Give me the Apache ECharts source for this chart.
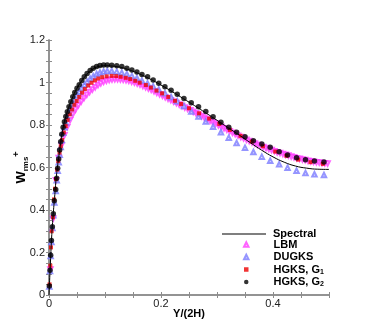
<!DOCTYPE html>
<html>
<head>
<meta charset="utf-8">
<script src="https://cdn.jsdelivr.net/npm/echarts@6/dist/echarts.min.js"></script>
<style>
  html, body { margin: 0; padding: 0; background: #fff; }
  #chart { width: 374px; height: 332px; }
</style>
</head>
<body>
<div id="chart"></div>
<script>
// Spectral (line)
var specY = [0, 0.0025, 0.005, 0.0075, 0.01, 0.0125, 0.015, 0.0175, 0.02, 0.025, 0.03, 0.035, 0.04, 0.045, 0.05, 0.055, 0.06, 0.065, 0.07, 0.075, 0.08, 0.085, 0.09, 0.095, 0.1, 0.11, 0.12, 0.13, 0.14, 0.15, 0.16, 0.17, 0.18, 0.19, 0.2, 0.22, 0.24, 0.26, 0.28, 0.3, 0.32, 0.34, 0.36, 0.38, 0.4, 0.42, 0.44, 0.46, 0.48, 0.5];
var specW = [0, 0.15, 0.285, 0.38, 0.46, 0.54, 0.6, 0.65, 0.7, 0.785, 0.84, 0.882, 0.915, 0.948, 0.973, 0.995, 1.013, 1.03, 1.045, 1.057, 1.066, 1.072, 1.076, 1.078, 1.079, 1.078, 1.075, 1.07, 1.062, 1.053, 1.042, 1.03, 1.017, 1.003, 0.988, 0.957, 0.924, 0.891, 0.857, 0.822, 0.787, 0.752, 0.716, 0.681, 0.65, 0.625, 0.607, 0.597, 0.592, 0.591];

// LBM (down triangles)
var lbmY = [0.0025, 0.0075, 0.0125, 0.0175, 0.0225, 0.0275, 0.0325, 0.0375, 0.0425, 0.0475, 0.0525, 0.0575, 0.0625, 0.0675, 0.0725, 0.0775, 0.0825, 0.0875, 0.0925, 0.0975,
  0.1025, 0.1075, 0.1125, 0.1175, 0.1225, 0.1275, 0.1325, 0.1375, 0.1425, 0.1475, 0.1525, 0.1575, 0.1625, 0.1675, 0.1725, 0.1775, 0.1825, 0.1875, 0.1925, 0.1975,
  0.2025, 0.2075, 0.2125, 0.2175, 0.2225, 0.2275, 0.2325, 0.2375, 0.2425, 0.2475, 0.2525, 0.2575, 0.2625, 0.2675, 0.2725, 0.2775, 0.2825, 0.2875, 0.2925, 0.2975,
  0.3025, 0.3075, 0.3125, 0.3175, 0.3225, 0.3275, 0.3325, 0.3375, 0.3425, 0.3475, 0.3525, 0.3575, 0.3625, 0.3675, 0.3725, 0.3775, 0.3825, 0.3875, 0.3925, 0.3975,
  0.4025, 0.4075, 0.4125, 0.4175, 0.4225, 0.4275, 0.4325, 0.4375, 0.4425, 0.4475, 0.4525, 0.4575, 0.4625, 0.4675, 0.4725, 0.4775, 0.4825, 0.4875, 0.4925, 0.4975];
var lbmW = [0.12, 0.36, 0.54, 0.645, 0.705, 0.752, 0.79, 0.822, 0.85, 0.873, 0.893, 0.911, 0.927, 0.942, 0.955, 0.967, 0.978, 0.988, 0.996, 1.003,
  1.008, 1.012, 1.014, 1.015, 1.015, 1.014, 1.013, 1.011, 1.008, 1.004, 1.0, 0.995, 0.99, 0.984, 0.978, 0.972, 0.966, 0.959, 0.952, 0.945,
  0.938, 0.931, 0.924, 0.917, 0.91, 0.903, 0.896, 0.889, 0.882, 0.876, 0.869, 0.862, 0.855, 0.848, 0.841, 0.834, 0.827, 0.82, 0.813, 0.806,
  0.799, 0.792, 0.785, 0.778, 0.771, 0.764, 0.757, 0.75, 0.743, 0.737, 0.731, 0.725, 0.719, 0.713, 0.707, 0.702, 0.697, 0.692, 0.687, 0.682,
  0.677, 0.672, 0.668, 0.664, 0.66, 0.656, 0.652, 0.648, 0.644, 0.641, 0.638, 0.635, 0.632, 0.629, 0.627, 0.625, 0.623, 0.621, 0.62, 0.619];

// DUGKS (up triangles)
var dugksY = [0.0006, 0.0018, 0.003, 0.0043, 0.006, 0.0077, 0.0095, 0.012, 0.0137, 0.0155, 0.0173, 0.019, 0.0209, 0.0228, 0.0252, 0.0275, 0.03, 0.0327, 0.0357, 0.039,
  0.0425, 0.046, 0.05, 0.054, 0.0585, 0.063, 0.068, 0.0735, 0.079, 0.085, 0.091, 0.0975, 0.104, 0.112, 0.121, 0.13, 0.139, 0.148, 0.157, 0.166,
  0.176, 0.186, 0.196, 0.207, 0.218, 0.229, 0.241, 0.254, 0.267, 0.28, 0.293, 0.307, 0.321, 0.335, 0.35, 0.365, 0.38, 0.395, 0.411, 0.426,
  0.442, 0.458, 0.474, 0.491];
var dugksW = [0.04, 0.113, 0.183, 0.25, 0.315, 0.375, 0.435, 0.49, 0.54, 0.585, 0.625, 0.66, 0.697, 0.73, 0.763, 0.79, 0.812, 0.835, 0.858, 0.88,
  0.902, 0.921, 0.94, 0.957, 0.974, 0.99, 1.004, 1.018, 1.03, 1.04, 1.047, 1.052, 1.054, 1.054, 1.051, 1.046, 1.04, 1.031, 1.021, 1.009,
  0.996, 0.982, 0.967, 0.95, 0.932, 0.912, 0.889, 0.863, 0.84, 0.816, 0.792, 0.766, 0.74, 0.715, 0.693, 0.673, 0.651, 0.632, 0.615, 0.599,
  0.585, 0.574, 0.568, 0.565];

// HGKS, G1 (red squares)
var g1Y = [0.001, 0.0024, 0.0036, 0.0048, 0.007, 0.009, 0.0107, 0.0125, 0.0145, 0.0165, 0.0188, 0.021, 0.0235, 0.0265, 0.0298, 0.0333, 0.037, 0.041, 0.0452, 0.0494,
  0.054, 0.059, 0.064, 0.07, 0.076, 0.082, 0.088, 0.095, 0.103, 0.112, 0.12, 0.128, 0.137, 0.145, 0.154, 0.162, 0.173, 0.182, 0.192, 0.202,
  0.213, 0.225, 0.236, 0.25, 0.268, 0.286, 0.304, 0.323, 0.342, 0.362, 0.382, 0.404, 0.424, 0.445, 0.467, 0.489];
var g1W = [0.05, 0.138, 0.224, 0.3, 0.366, 0.45, 0.5, 0.545, 0.59, 0.63, 0.67, 0.7, 0.73, 0.765, 0.795, 0.824, 0.85, 0.873, 0.895, 0.913,
  0.932, 0.952, 0.969, 0.986, 0.999, 1.01, 1.019, 1.025, 1.029, 1.031, 1.03, 1.027, 1.022, 1.016, 1.008, 0.999, 0.988, 0.976, 0.962, 0.949,
  0.932, 0.914, 0.899, 0.879, 0.855, 0.83, 0.805, 0.777, 0.749, 0.722, 0.7, 0.675, 0.655, 0.637, 0.625, 0.617];

// HGKS, G2 (black dots)
var g2Y = [0.0006, 0.0018, 0.003, 0.0043, 0.006, 0.0077, 0.0095, 0.012, 0.0137, 0.0155, 0.0173, 0.019, 0.0209, 0.0228, 0.0252, 0.0275, 0.03, 0.0327, 0.0357, 0.039,
  0.0425, 0.046, 0.05, 0.054, 0.0585, 0.063, 0.068, 0.0735, 0.079, 0.085, 0.091, 0.0975, 0.104, 0.112, 0.121, 0.13, 0.139, 0.148, 0.157, 0.166,
  0.176, 0.186, 0.196, 0.207, 0.218, 0.229, 0.241, 0.254, 0.267, 0.28, 0.293, 0.307, 0.321, 0.335, 0.35, 0.365, 0.38, 0.395, 0.411, 0.426,
  0.442, 0.458, 0.474, 0.491];
var g2W = [0.042, 0.116, 0.187, 0.256, 0.321, 0.382, 0.444, 0.497, 0.549, 0.596, 0.64, 0.682, 0.721, 0.757, 0.79, 0.815, 0.84, 0.862, 0.886, 0.91,
  0.933, 0.953, 0.973, 0.99, 1.01, 1.027, 1.042, 1.056, 1.067, 1.075, 1.08, 1.082, 1.082, 1.081, 1.079, 1.075, 1.067, 1.059, 1.049, 1.038,
  1.027, 1.012, 0.996, 0.98, 0.963, 0.945, 0.925, 0.905, 0.886, 0.863, 0.839, 0.813, 0.789, 0.766, 0.745, 0.726, 0.711, 0.695, 0.674, 0.659,
  0.646, 0.637, 0.631, 0.626];

var xLabelValues = [0, 0.2, 0.4];
var yLabelValues = [0, 0.2, 0.4, 0.6, 0.8, 1, 1.2];

function pairs(xs, ys) {
  return xs.map(function (x, i) { return [x, ys[i]]; });
}
function pickLabel(list) {
  return function (v) {
    for (var i = 0; i < list.length; i++) {
      if (Math.abs(v - list[i]) < 1e-6) return String(list[i]);
    }
    return '';
  };
}

var FONT = '"Liberation Sans", Arial, sans-serif';
var axisGray = '#8c8c8c';

var legendText = {
  fontFamily: FONT, fontSize: 11, fontWeight: 'bold', color: '#000', lineHeight: 12,
  rich: {
    a: { fontFamily: FONT, fontSize: 11, fontWeight: 'bold', color: '#000', lineHeight: 12 },
    s: { fontFamily: FONT, fontSize: 7, fontWeight: 'bold', color: '#000', verticalAlign: 'bottom', lineHeight: 12 }
  }
};
function legendFormatter(name) {
  if (name === 'HGKS, G1') return '{a|HGKS, G}{s|1}';
  if (name === 'HGKS, G2') return '{a|HGKS, G}{s|2}';
  return '{a|' + name + '}';
}

var myChart = echarts.init(document.getElementById('chart'));

var option = {
  backgroundColor: '#fff',
  animation: false,
  grid: { left: 49, right: 45, top: 40, bottom: 37, containLabel: false, outerBoundsMode: 'none' },
  legend: [{
    orient: 'vertical',
    left: 217,
    top: 223,
    itemWidth: 44,
    itemHeight: 1.2,
    textStyle: Object.assign({}, legendText, { padding: [0, 0, 0, 2] }),
    formatter: legendFormatter,
    data: [{ name: 'Spectral', icon: 'rect' }]
  }, {
    orient: 'vertical',
    left: 238,
    top: 233.5,
    itemWidth: 4.5,
    itemHeight: 4.5,
    itemGap: 0.5,
    textStyle: Object.assign({}, legendText, { padding: [0, 0, 0, 20] }),
    formatter: legendFormatter,
    data: ['LBM', 'DUGKS', 'HGKS, G1', 'HGKS, G2']
  }],
  xAxis: [{
    type: 'value', min: 0, max: 0.5, interval: 0.05,
    name: 'Y/(2H)', nameLocation: 'middle', nameGap: 13, nameMoveOverlap: false,
    nameTextStyle: { fontFamily: FONT, fontSize: 11, fontWeight: 'bold', color: '#000' },
    axisLine: { onZero: false, lineStyle: { color: axisGray, width: 1.5 } },
    axisTick: { length: 3, lineStyle: { color: axisGray } },
    axisLabel: { formatter: pickLabel(xLabelValues), fontFamily: FONT, fontSize: 11, color: '#222', margin: 3 },
    splitLine: { show: false }
  }, {
    type: 'value', min: 0, max: 0.5, interval: 0.05, position: 'top',
    axisLine: { lineStyle: { color: axisGray, width: 1.5 } },
    axisTick: { length: 3, lineStyle: { color: axisGray } },
    axisLabel: { show: false }, splitLine: { show: false }
  }],
  yAxis: [{
    type: 'value', min: 0, max: 1.2, interval: 0.05,
    name: '{w|W}{s|rms}{p|+}', nameLocation: 'middle', nameGap: 19, nameRotate: 90, nameMoveOverlap: false,
    nameTextStyle: {
      rich: {
        w: { fontFamily: FONT, fontSize: 13, fontWeight: 'bold', color: '#000', lineHeight: 18 },
        s: { fontFamily: FONT, fontSize: 8, fontWeight: 'bold', color: '#000', verticalAlign: 'bottom', lineHeight: 18 },
        p: { fontFamily: FONT, fontSize: 9, fontWeight: 'bold', color: '#000', verticalAlign: 'top', lineHeight: 18 }
      }
    },
    axisLine: { onZero: false, lineStyle: { color: axisGray, width: 1.5 } },
    axisTick: { length: 3, lineStyle: { color: axisGray } },
    axisLabel: { formatter: pickLabel(yLabelValues), fontFamily: FONT, fontSize: 11, color: '#222', margin: 4 },
    splitLine: { show: false }
  }, {
    type: 'value', min: 0, max: 1.2, interval: 0.05, position: 'right',
    axisLine: { lineStyle: { color: axisGray, width: 1.5 } },
    axisTick: { length: 3, lineStyle: { color: axisGray } },
    axisLabel: { show: false }, splitLine: { show: false }
  }],
  series: [
    {
      name: 'LBM', type: 'scatter', data: pairs(lbmY, lbmW),
      symbol: 'emptyTriangle', symbolRotate: 180, symbolSize: 4.5,
      itemStyle: { color: '#ff3cff', borderColor: '#ff3cff', borderWidth: 1 }, z: 2
    },
    {
      name: 'DUGKS', type: 'scatter', data: pairs(dugksY, dugksW),
      symbol: 'emptyTriangle', symbolSize: 4.5,
      itemStyle: { color: '#7a7aff', borderColor: '#7a7aff', borderWidth: 0.8 }, z: 3
    },
    {
      name: 'HGKS, G1', type: 'scatter', data: pairs(g1Y, g1W),
      symbol: 'rect', symbolSize: 4,
      itemStyle: { color: '#ee0000' }, z: 4
    },
    {
      name: 'HGKS, G2', type: 'scatter', data: pairs(g2Y, g2W),
      symbol: 'circle', symbolSize: 5.5,
      itemStyle: { color: '#000' }, z: 5
    },
    {
      name: 'Spectral', type: 'line', data: pairs(specY, specW),
      symbol: 'none', smooth: true,
      lineStyle: { color: '#000', width: 1 },
      itemStyle: { color: '#000' }, z: 6
    }
  ]
};
myChart.setOption(option);
</script>
</body>
</html>
